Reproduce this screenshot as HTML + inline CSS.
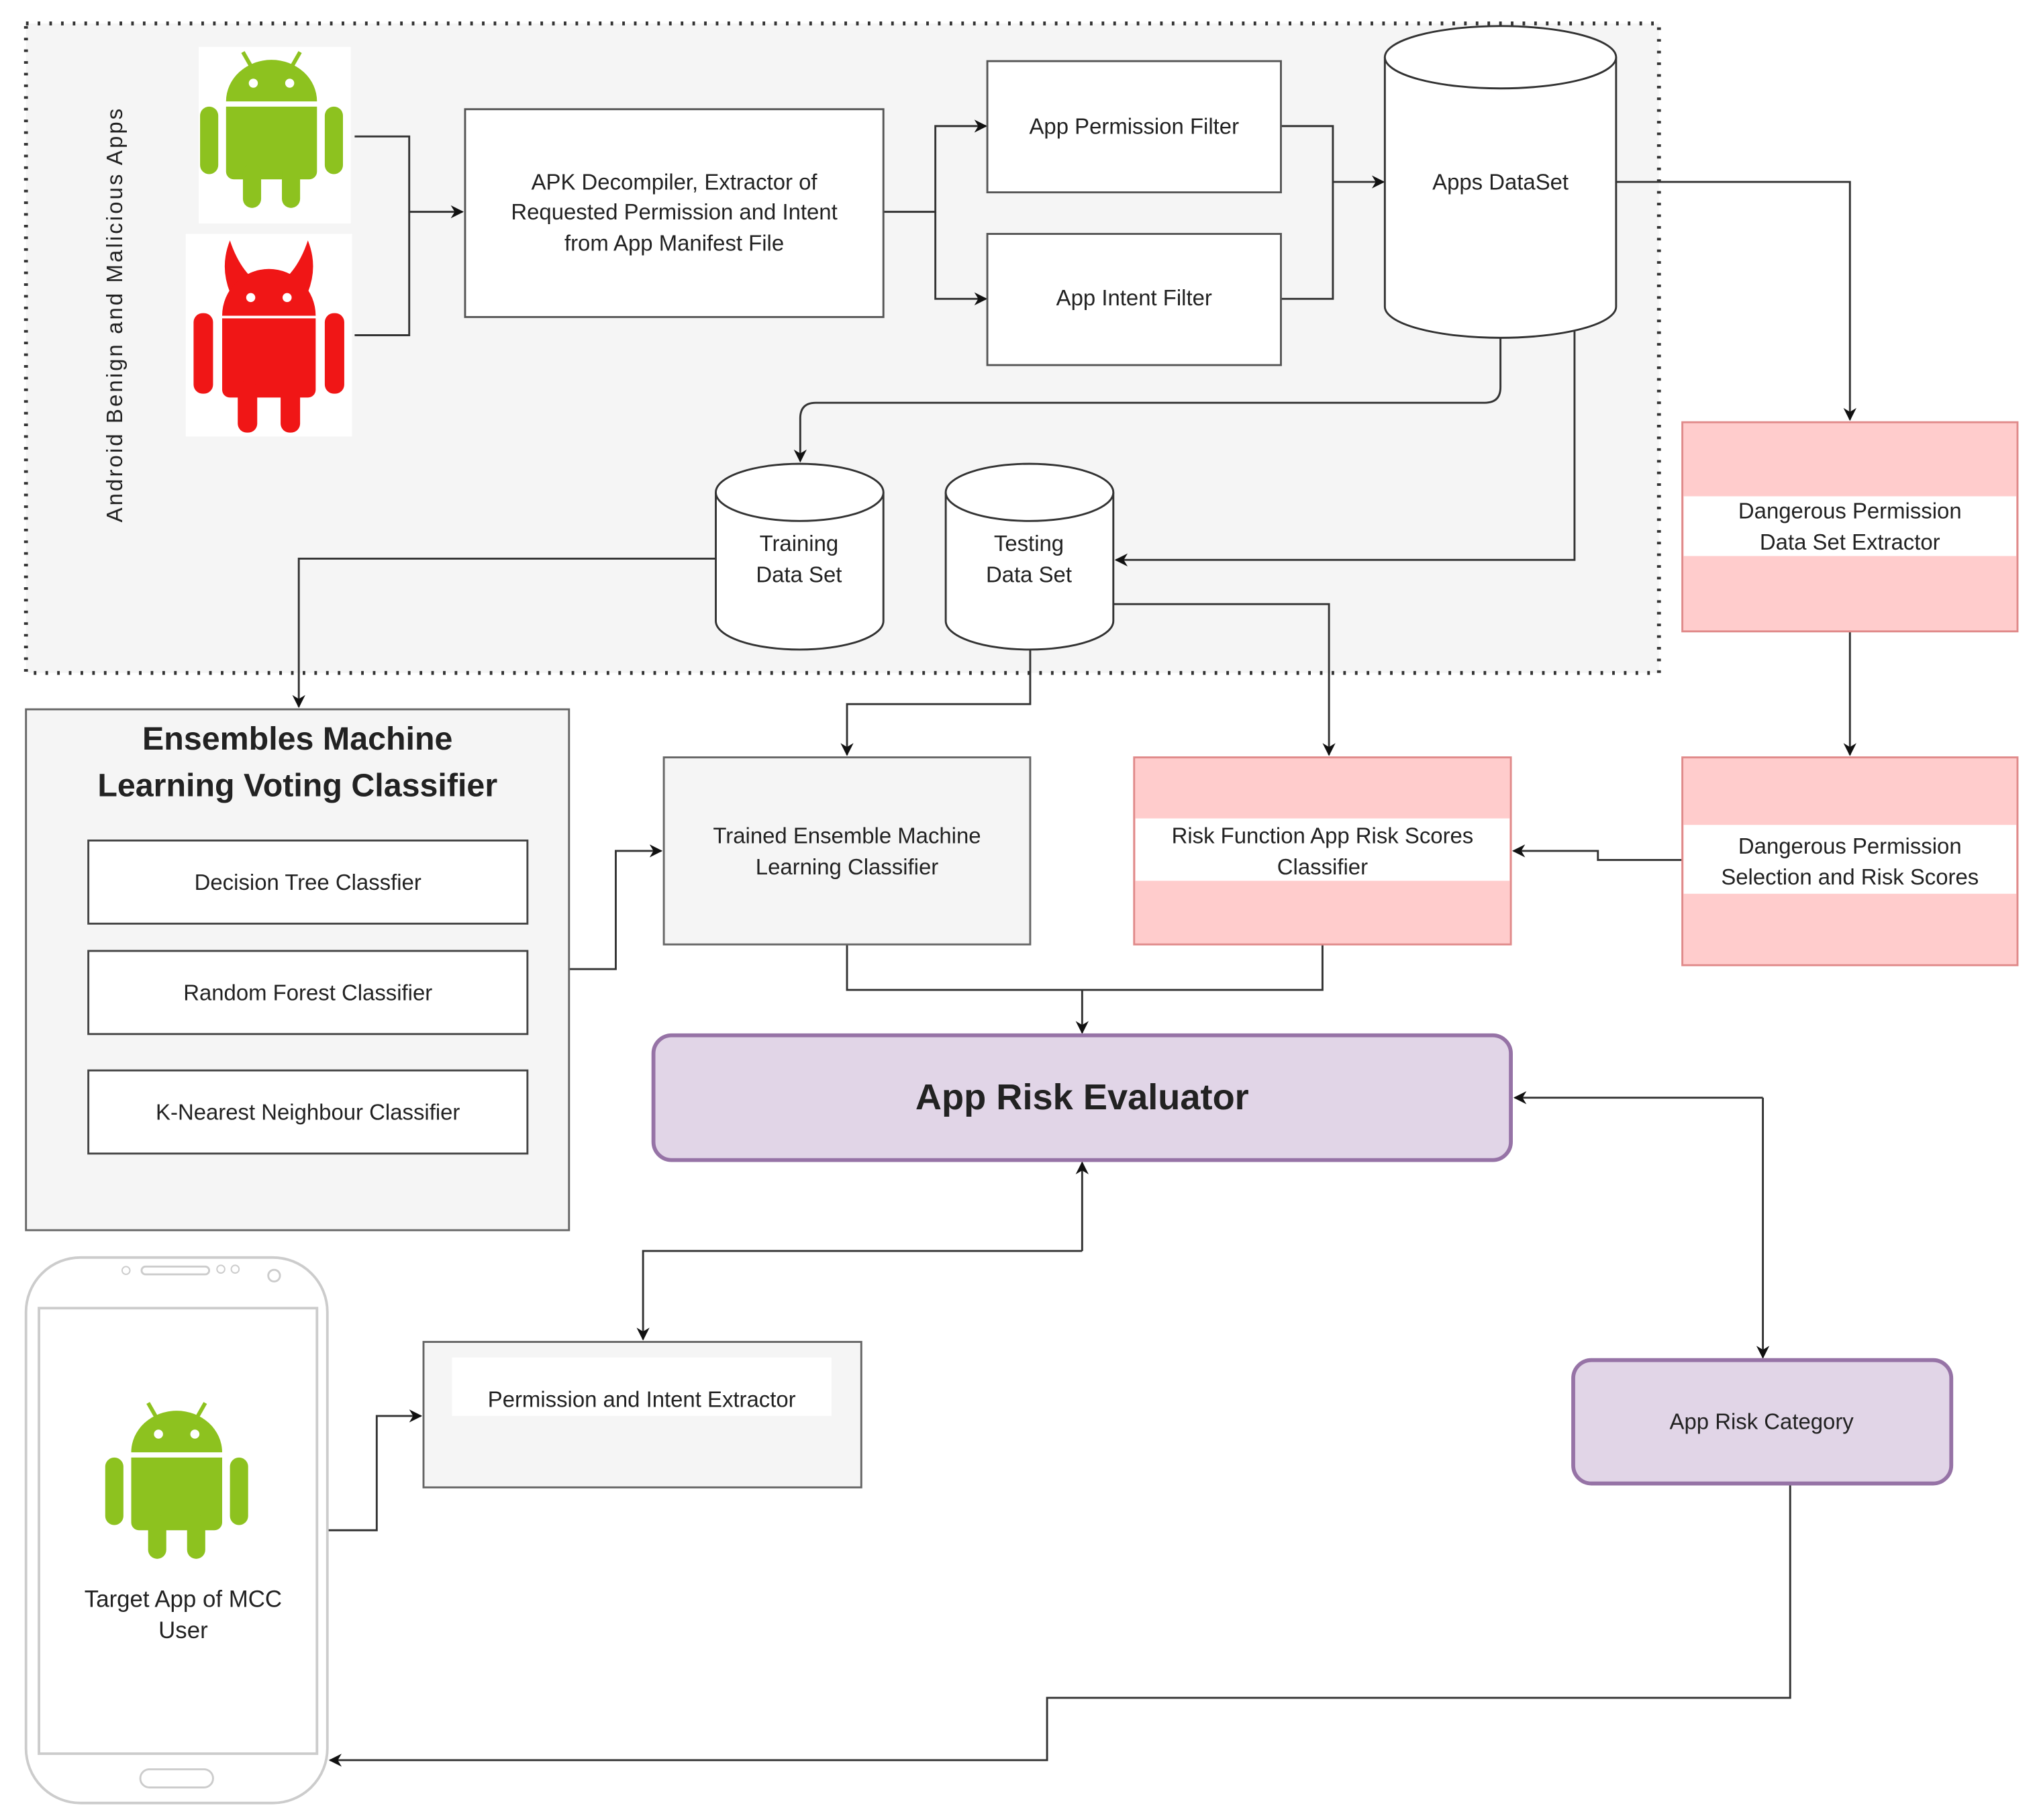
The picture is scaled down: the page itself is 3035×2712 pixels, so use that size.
<!DOCTYPE html>
<html><head><meta charset="utf-8"><style>
html,body{margin:0;padding:0;background:#fff;}
svg{display:block;}
text{font-family:"Liberation Sans",sans-serif;fill:#222;}
</style></head><body>
<svg width="3035" height="2712" viewBox="0 0 1568 1401" xmlns="http://www.w3.org/2000/svg">
<defs>
<marker id="a" markerWidth="10" markerHeight="10" refX="9" refY="5" orient="auto" markerUnits="userSpaceOnUse">
<path d="M0,0 L10,5 L0,10 L3,5 Z" fill="#111"/>
</marker>
<g id="droid">
<line x1="-22" y1="-60" x2="-14" y2="-46" stroke="currentColor" stroke-width="3"/>
<line x1="22" y1="-60" x2="14" y2="-46" stroke="currentColor" stroke-width="3"/>
<path d="M-35,-22 A35,32 0 0 1 35,-22 Z" fill="currentColor"/>
<circle cx="-14" cy="-36" r="3.5" fill="#fff"/><circle cx="14" cy="-36" r="3.5" fill="#fff"/>
<path d="M-35,-18 H35 V32 a6,6 0 0 1 -6,6 H-29 a6,6 0 0 1 -6,-6 Z" fill="currentColor"/>
<rect x="-55" y="-18" width="14" height="52" rx="7" fill="currentColor"/>
<rect x="41" y="-18" width="14" height="52" rx="7" fill="currentColor"/>
<rect x="-22" y="26" width="14" height="34" rx="7" fill="currentColor"/>
<rect x="8" y="26" width="14" height="34" rx="7" fill="currentColor"/>
</g>
</defs>
<rect x="0" y="0" width="1568" height="1401" fill="#fff"/>
<rect x="20" y="18" width="1257" height="500" fill="#f5f5f5" stroke="#333" stroke-width="3" stroke-dasharray="2,7"/>
<text transform="translate(94,242) rotate(-90)" text-anchor="middle" font-size="17" letter-spacing="1.6">Android Benign and Malicious Apps</text>
<rect x="153" y="36" width="117" height="136" fill="#fff"/>
<g transform="translate(209,100)" color="#8dc21f"><use href="#droid"/></g>
<rect x="143" y="180" width="128" height="156" fill="#fff"/>
<g transform="translate(207,265)" color="#f01616">
<path d="M-30,-40 Q-38,-60 -30,-80 Q-24,-62 -14,-52 Z" fill="currentColor"/>
<path d="M30,-40 Q38,-60 30,-80 Q24,-62 14,-52 Z" fill="currentColor"/>
<path d="M-36,-22 A36,36 0 0 1 36,-22 Z" fill="currentColor"/>
<circle cx="-14" cy="-36" r="3.5" fill="#fff"/><circle cx="14" cy="-36" r="3.5" fill="#fff"/>
<path d="M-36,-20 H36 V35 a6,6 0 0 1 -6,6 H-30 a6,6 0 0 1 -6,-6 Z" fill="currentColor"/>
<rect x="-58" y="-24" width="15" height="62" rx="7" fill="currentColor"/>
<rect x="43" y="-24" width="15" height="62" rx="7" fill="currentColor"/>
<rect x="-24" y="28" width="15" height="40" rx="7" fill="currentColor"/>
<rect x="9" y="28" width="15" height="40" rx="7" fill="currentColor"/>
</g>
<g fill="none" stroke="#333" stroke-width="1.5">
<path d="M273,105 H315 V258 H273"/>
<path d="M315,163 H356" marker-end="url(#a)"/>
<path d="M680,163 H720 V97 H759" marker-end="url(#a)"/>
<path d="M720,163 V230 H759" marker-end="url(#a)"/>
<path d="M986,97 H1026 V230 H986"/>
<path d="M1026,140 H1065" marker-end="url(#a)"/>
<path d="M1244,140 H1424 V323" marker-end="url(#a)"/>
<path d="M1424,486 V581" marker-end="url(#a)"/>
<path d="M1295,662 H1230 V655 H1165" marker-end="url(#a)"/>
<path d="M1155,260 V298 Q1155,310 1143,310 H628 Q616,310 616,322 V355" marker-end="url(#a)"/>
<path d="M1212,255 V431 H859" marker-end="url(#a)"/>
<path d="M551,430 H230 V544" marker-end="url(#a)"/>
<path d="M857,465 H1023 V581" marker-end="url(#a)"/>
<path d="M793,500 V542 H652 V581" marker-end="url(#a)"/>
<path d="M438,746 H474 V655 H509" marker-end="url(#a)"/>
<path d="M652,727 V762 H1018 V727"/>
<path d="M833,762 V795" marker-end="url(#a)"/>
<path d="M833,963 V895" marker-end="url(#a)"/>
<path d="M833,963 H495 V1031" marker-end="url(#a)"/>
<path d="M252,1178 H290 V1090 H324" marker-end="url(#a)"/>
<path d="M1357,845 H1166" marker-end="url(#a)"/>
<path d="M1357,845 V1045" marker-end="url(#a)"/>
<path d="M1378,1143 V1307 H806 V1355 H254" marker-end="url(#a)"/>
</g>
<rect x="358" y="84" width="322" height="160" fill="#fff" stroke="#555" stroke-width="1.5"/>
<text x="519" y="146" text-anchor="middle" font-size="17">APK Decompiler,  Extractor of</text>
<text x="519" y="169" text-anchor="middle" font-size="17">Requested Permission and Intent</text>
<text x="519" y="193" text-anchor="middle" font-size="17">from App Manifest File</text>
<rect x="760" y="47" width="226" height="101" fill="#fff" stroke="#555" stroke-width="1.5"/>
<text x="873" y="103" text-anchor="middle" font-size="17">App Permission Filter</text>
<rect x="760" y="180" width="226" height="101" fill="#fff" stroke="#555" stroke-width="1.5"/>
<text x="873" y="235" text-anchor="middle" font-size="17">App Intent Filter</text>
<path d="M1066,44 V236 A89,24 0 0 0 1244,236 V44" fill="#fff" stroke="#333" stroke-width="1.5"/>
<ellipse cx="1155" cy="44" rx="89" ry="24" fill="#fff" stroke="#333" stroke-width="1.5"/>
<text x="1155" y="146" text-anchor="middle" font-size="17" fill="#555">Apps DataSet</text>
<path d="M551,379 V478 A64.5,22 0 0 0 680,478 V379" fill="#fff" stroke="#333" stroke-width="1.5"/>
<ellipse cx="615.5" cy="379" rx="64.5" ry="22" fill="#fff" stroke="#333" stroke-width="1.5"/>
<text x="615" y="424" text-anchor="middle" font-size="17">Training</text>
<text x="615" y="448" text-anchor="middle" font-size="17">Data Set</text>
<path d="M728,379 V478 A64.5,22 0 0 0 857,478 V379" fill="#fff" stroke="#333" stroke-width="1.5"/>
<ellipse cx="792.5" cy="379" rx="64.5" ry="22" fill="#fff" stroke="#333" stroke-width="1.5"/>
<text x="792" y="424" text-anchor="middle" font-size="17">Testing</text>
<text x="792" y="448" text-anchor="middle" font-size="17">Data Set</text>
<rect x="1295" y="325" width="258" height="161" fill="#ffcccc" stroke="#e08a8a" stroke-width="1.5"/>
<rect x="1296" y="382" width="256" height="46" fill="#fff"/>
<text x="1424" y="399" text-anchor="middle" font-size="17" fill="#444">Dangerous Permission</text>
<text x="1424" y="423" text-anchor="middle" font-size="17" fill="#444">Data Set Extractor</text>
<rect x="1295" y="583" width="258" height="160" fill="#ffcccc" stroke="#e08a8a" stroke-width="1.5"/>
<rect x="1296" y="635" width="256" height="53" fill="#fff"/>
<text x="1424" y="657" text-anchor="middle" font-size="17" fill="#555">Dangerous Permission</text>
<text x="1424" y="681" text-anchor="middle" font-size="17" fill="#555">Selection and Risk Scores</text>
<rect x="873" y="583" width="290" height="144" fill="#ffcccc" stroke="#e08a8a" stroke-width="1.5"/>
<rect x="874" y="630" width="288" height="48" fill="#fff"/>
<text x="1018" y="649" text-anchor="middle" font-size="17" fill="#555">Risk Function App Risk Scores</text>
<text x="1018" y="673" text-anchor="middle" font-size="17" fill="#555">Classifier</text>
<rect x="511" y="583" width="282" height="144" fill="#f5f5f5" stroke="#666" stroke-width="1.5"/>
<text x="652" y="649" text-anchor="middle" font-size="17" fill="#444">Trained Ensemble Machine</text>
<text x="652" y="673" text-anchor="middle" font-size="17" fill="#444">Learning Classifier</text>
<rect x="20" y="546" width="418" height="401" fill="#f5f5f5" stroke="#666" stroke-width="1.5"/>
<text x="229" y="577" text-anchor="middle" font-size="25" font-weight="bold">Ensembles Machine</text>
<text x="229" y="613" text-anchor="middle" font-size="25" font-weight="bold">Learning Voting Classifier</text>
<rect x="68" y="647" width="338" height="64" fill="#fff" stroke="#444" stroke-width="1.5"/>
<text x="237" y="685" text-anchor="middle" font-size="17">Decision Tree Classfier</text>
<rect x="68" y="732" width="338" height="64" fill="#fff" stroke="#444" stroke-width="1.5"/>
<text x="237" y="770" text-anchor="middle" font-size="17">Random Forest Classifier</text>
<rect x="68" y="824" width="338" height="64" fill="#fff" stroke="#444" stroke-width="1.5"/>
<text x="237" y="862" text-anchor="middle" font-size="17">K-Nearest Neighbour Classifier</text>
<rect x="503" y="797" width="660" height="96" rx="14" fill="#e1d5e7" stroke="#9673a6" stroke-width="3"/>
<text x="833" y="854" text-anchor="middle" font-size="28" font-weight="bold">App Risk Evaluator</text>
<rect x="1211" y="1047" width="291" height="95" rx="14" fill="#e1d5e7" stroke="#9673a6" stroke-width="3"/>
<text x="1356" y="1100" text-anchor="middle" font-size="17">App Risk Category</text>
<rect x="326" y="1033" width="337" height="112" fill="#f5f5f5" stroke="#666" stroke-width="1.5"/>
<rect x="348" y="1045" width="292" height="45" fill="#fff"/>
<text x="494" y="1083" text-anchor="middle" font-size="17" fill="#444">Permission and Intent Extractor</text>
<rect x="20" y="968" width="232" height="420" rx="42" fill="#fff" stroke="#ccc" stroke-width="2"/>
<rect x="30" y="1007" width="214" height="343" fill="#fff" stroke="#ccc" stroke-width="2"/>
<rect x="108" y="1362" width="56" height="14" rx="7" fill="none" stroke="#ccc" stroke-width="1.5"/>
<rect x="109" y="975" width="52" height="6" rx="3" fill="none" stroke="#ccc" stroke-width="1.5"/>
<circle cx="97" cy="978" r="3" fill="none" stroke="#ccc"/>
<circle cx="170" cy="977" r="3" fill="none" stroke="#ccc"/><circle cx="181" cy="977" r="3" fill="none" stroke="#ccc"/>
<circle cx="211" cy="982" r="4.5" fill="none" stroke="#ccc" stroke-width="1.5"/>
<g transform="translate(136,1140)" color="#8dc21f"><use href="#droid"/></g>
<text x="141" y="1237" text-anchor="middle" font-size="18">Target App of MCC</text>
<text x="141" y="1261" text-anchor="middle" font-size="18">User</text>
</svg>
</body></html>
